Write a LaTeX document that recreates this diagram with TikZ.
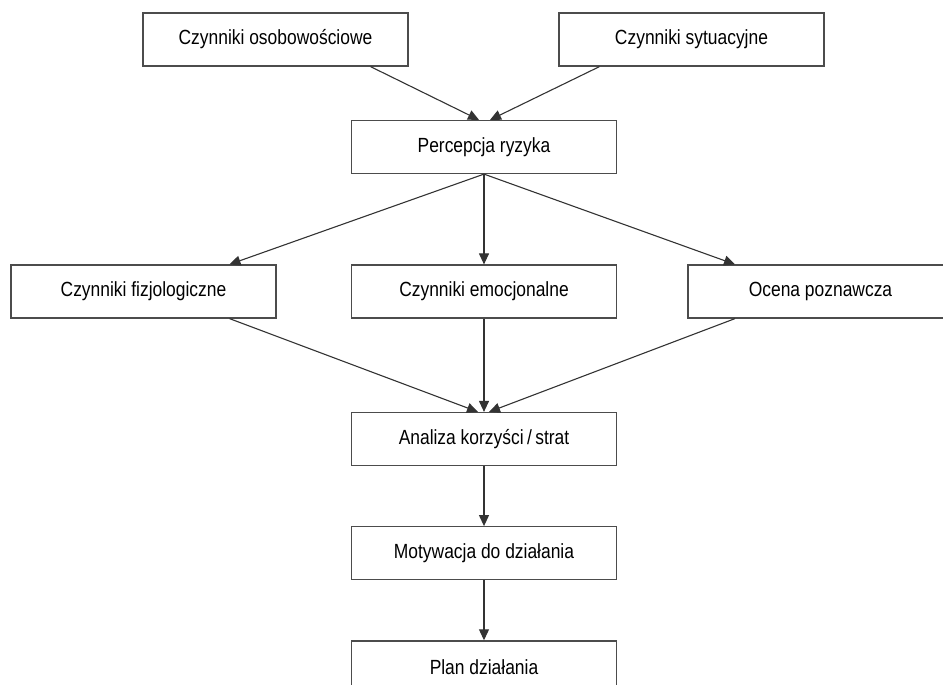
\documentclass[tikz,border=0pt]{standalone}
\usepackage{fontspec}
\setmainfont{Liberation Sans}[FakeStretch=0.85]
\usetikzlibrary{arrows.meta, positioning}

\begin{document}
\begin{tikzpicture}[
    x=1pt, y=-1pt,
    % --- Styles ---
    box/.style={draw=black!70, line width=1.2pt, minimum width=265pt, minimum height=53pt,
        inner sep=0pt, font=\fontsize{20.5}{24}\selectfont},
    link/.style={-{Triangle[length=11pt, width=10pt]}, draw=black!80, line width=1.1pt}
]
    \useasboundingbox (0,0) rectangle (943,685);
    \clip (0,0) rectangle (943,685);

    %% --- Inputs ---
    \node[box] (osob) at (275.5,39.5) {Czynniki osobowościowe};
    \node[box] (sytu) at (691.5,39.5) {Czynniki sytuacyjne};
    \node[box] (perc) at (484,147) {Percepcja ryzyka};

    %% --- Middle row ---
    \node[box] (fizj) at (143.5,291.5) {Czynniki fizjologiczne};
    \node[box] (emoc) at (484,291.5) {Czynniki emocjonalne};
    \node[box, minimum width=280pt] (ocen) at (828,291.5) {\hspace*{-15pt}Ocena poznawcza};

    %% --- Chain ---
    \node[box] (anal) at (484,439) {Analiza korzyści\,/\,strat};
    \node[box, below=60pt of anal] (moty) {Motywacja do działania};
    \node[box, below=60pt of moty] (plan) {Plan działania};

    % Connectors
    \draw[link] ([xshift=95pt]osob.south) -- ([xshift=-5pt]perc.north);
    \draw[link] ([xshift=-92pt]sytu.south) -- ([xshift=6pt]perc.north);

    \draw[link] (perc.south) -- ([xshift=86pt]fizj.north);
    \draw[link] (perc.south) -- (emoc.north);
    \draw[link] (perc.south) -- ([xshift=-93pt]ocen.north);

    \draw[link] ([xshift=86pt]fizj.south) -- ([xshift=-6pt]anal.north);
    \draw[link] (emoc.south) -- (anal.north);
    \draw[link] ([xshift=-93pt]ocen.south) -- ([xshift=5pt]anal.north);

    \draw[link] (anal.south) -- (moty.north);
    \draw[link] (moty.south) -- (plan.north);
\end{tikzpicture}
\end{document}
